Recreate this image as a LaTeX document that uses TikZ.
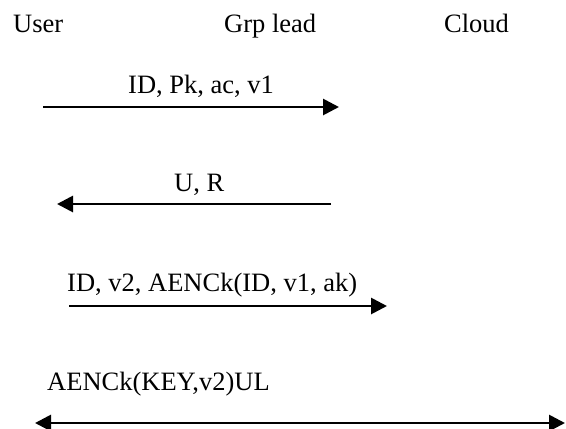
\documentclass[tikz,border=0pt]{standalone}
\usepackage{fontspec}
\setmainfont{Liberation Serif}
\usetikzlibrary{arrows.meta}

\begin{document}
\begin{tikzpicture}[x=1pt, y=-1pt,
      every node/.style={font=\fontsize{26.5}{30}\selectfont, inner sep=0pt, anchor=base west},
      msg/.style={line width=2.8pt, -{Triangle[length=16pt,width=16pt]}},
      both/.style={line width=2.8pt, {Triangle[length=16pt,width=16pt]}-{Triangle[length=16pt,width=16pt]}}]
    \useasboundingbox (0,0) rectangle (566,429);
    % parties
    \node (user)  at (13,32)  {User};
    \node (grp)   at (224,32) {Grp lead};
    \node (cloud) at (444,32) {Cloud};
    % message labels
    \node (lblA) at (128,93)  {ID, Pk, ac, v1};
    \node (lblB) at (174,191) {U, R};
    \node (lblC) at (67,291)  {ID, v2, AENCk(ID, v1, ak)};
    \node (lblD) at (47,390)  {AENCk(KEY,v2)UL};
    % arrow ends
    \coordinate (a1s) at (43,107);  \coordinate (a1e) at (339,107);
    \coordinate (a2s) at (331,204); \coordinate (a2e) at (57,204);
    \coordinate (a3s) at (69,306);  \coordinate (a3e) at (387,306);
    \coordinate (a4s) at (35,423);  \coordinate (a4e) at (565,423);
    \draw[msg]  (a1s) -- (a1e);
    \draw[msg]  (a2s) -- (a2e);
    \draw[msg]  (a3s) -- (a3e);
    \draw[both] (a4s) -- (a4e);
\end{tikzpicture}
\end{document}
